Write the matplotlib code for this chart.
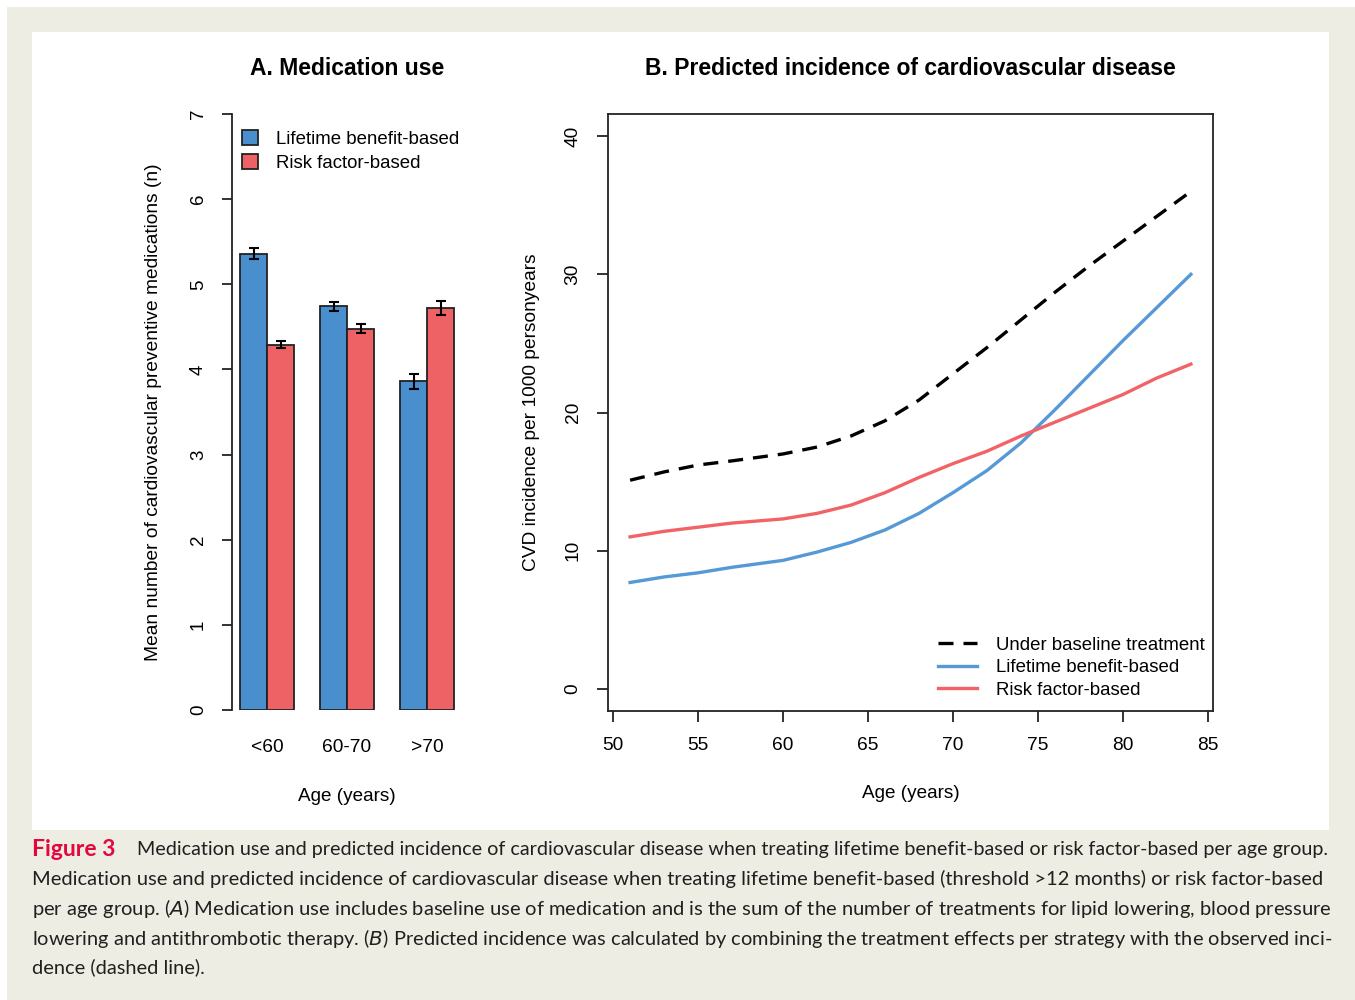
import matplotlib
matplotlib.use("Agg")
import matplotlib.pyplot as plt
from matplotlib import font_manager
from matplotlib.patches import Rectangle
import numpy as np

# panel A data
age_groups = ['<60', '60-70', '>70']
meds_lifetime = [5.36, 4.74, 3.86]
meds_lifetime_err = [0.064, 0.055, 0.09]
meds_risk = [4.29, 4.48, 4.72]
meds_risk_err = [0.043, 0.055, 0.08]

# panel B data
age = [51, 53, 55, 57, 60, 62, 64, 66, 68, 70, 72, 74, 76, 78, 80, 82, 84]
cvd_baseline = [15.1, 15.7, 16.2, 16.5, 17.0, 17.5, 18.3, 19.4, 20.9, 22.8,
                24.7, 26.7, 28.7, 30.6, 32.4, 34.2, 36.0]
cvd_lifetime = [7.7, 8.1, 8.4, 8.8, 9.3, 9.9, 10.6, 11.5, 12.7, 14.2,
                15.8, 17.8, 20.2, 22.7, 25.2, 27.6, 30.0]
cvd_risk = [11.0, 11.4, 11.7, 12.0, 12.3, 12.7, 13.3, 14.2, 15.3, 16.3,
            17.2, 18.3, 19.3, 20.3, 21.3, 22.5, 23.5]

caption_lines = [
    "Medication use and predicted incidence of cardiovascular disease when treating lifetime benefit-based or risk factor-based per age group.",
    "Medication use and predicted incidence of cardiovascular disease when treating lifetime benefit-based (threshold >12 months) or risk factor-based",
    "per age group. ($\\it{A}$) Medication use includes baseline use of medication and is the sum of the number of treatments for lipid lowering, blood pressure",
    "lowering and antithrombotic therapy. ($\\it{B}$) Predicted incidence was calculated by combining the treatment effects per strategy with the observed inci-",
    "dence (dashed line).",
]

BLUE = '#4a8fcd'
RED = '#ee6265'
BLUE_L = '#5599d6'
RED_L = '#f26368'
BEIGE = '#eeede3'

plt.rcParams['font.family'] = ['Liberation Sans', 'DejaVu Sans']
names = {f.name for f in font_manager.fontManager.ttflist}
cap_font = 'Lato' if 'Lato' in names else 'DejaVu Sans'

W, H = 1355, 1000
fig = plt.figure(figsize=(W / 100, H / 100), dpi=100)
fig.patch.set_facecolor('white')
fig.add_artist(Rectangle((7 / W, 0), 1 - 7 / W, 1 - 7 / H, transform=fig.transFigure,
                         facecolor=BEIGE, edgecolor='none', zorder=-10))
fig.add_artist(Rectangle((32 / W, 1 - 830 / H), (1329 - 32) / W, (830 - 32) / H,
                         transform=fig.transFigure, facecolor='white', edgecolor='none', zorder=-9))

# ---- panel A
ax1 = fig.add_axes([232 / W, 1 - 710 / H, 230 / W, 596 / H])
ax1.patch.set_alpha(0)
x = np.arange(len(age_groups))
bw = 0.3375
ekw = dict(elinewidth=1.5, capthick=1.5, ecolor='black')
ax1.bar(x - bw / 2, meds_lifetime, bw, color=BLUE, edgecolor='#222222', linewidth=1.3,
        yerr=meds_lifetime_err, capsize=3.5, error_kw=ekw, label='Lifetime benefit-based')
ax1.bar(x + bw / 2, meds_risk, bw, color=RED, edgecolor='#222222', linewidth=1.3,
        yerr=meds_risk_err, capsize=3.5, error_kw=ekw, label='Risk factor-based')
ax1.set_xlim(-0.4375, 2.4375)
ax1.set_ylim(0, 7)
ax1.set_yticks(range(8))
for s in ['top', 'right', 'bottom']:
    ax1.spines[s].set_visible(False)
ax1.spines['left'].set_linewidth(1.3)
ax1.spines['left'].set_color('#222222')
ax1.tick_params(axis='y', length=7, width=1.3, pad=11, labelsize=13.5, labelrotation=90,
                color='#222222')
for t in ax1.get_yticklabels():
    t.set_va('center')
ax1.set_xticks(x)
ax1.set_xticklabels(age_groups)
ax1.tick_params(axis='x', length=0, pad=21, labelsize=13.8)
ax1.set_xlabel('Age (years)', fontsize=13.6, labelpad=23)
ax1.set_ylabel('Mean number of cardiovascular preventive medications (n)', fontsize=13.8,
               labelpad=20)
ax1.legend(loc='upper left', bbox_to_anchor=(0.01, 0.985), frameon=False,
           fontsize=13.4, handlelength=0.85, handleheight=0.85, handletextpad=1.0,
           labelspacing=0.3, borderaxespad=0)
fig.text(347 / W, 1 - 68 / H, 'A. Medication use', fontsize=16.5, fontweight='bold',
         ha='center', va='center')

# ---- panel B
ax2 = fig.add_axes([608 / W, 1 - 711 / H, 605 / W, 597 / H])
ax2.patch.set_alpha(0)
ax2.plot(age, cvd_baseline, color='black', lw=2.4, dashes=(4.5, 3),
         label='Under baseline treatment')
ax2.plot(age, cvd_lifetime, color=BLUE_L, lw=2.4, label='Lifetime benefit-based')
ax2.plot(age, cvd_risk, color=RED_L, lw=2.4, label='Risk factor-based')
ax2.set_xlim(49.7, 85.3)
ax2.set_ylim(-1.6, 41.6)
ax2.set_xticks(range(50, 90, 5))
ax2.set_yticks(range(0, 50, 10))
for s in ax2.spines.values():
    s.set_linewidth(1.3)
    s.set_color('#222222')
ax2.tick_params(axis='x', length=8, width=1.3, pad=11, labelsize=13.8, color='#222222')
ax2.tick_params(axis='y', length=8, width=1.3, pad=11, labelsize=13.8, labelrotation=90,
                color='#222222')
for t in ax2.get_yticklabels():
    t.set_va('center')
ax2.set_xlabel('Age (years)', fontsize=13.6, labelpad=22)
ax2.set_ylabel('CVD incidence per 1000 personyears', fontsize=13.8, labelpad=18)
ax2.legend(loc='lower right', bbox_to_anchor=(0.998, 0.008), frameon=False, fontsize=13.4,
           handlelength=2.1, handletextpad=1.0, labelspacing=0.3, borderaxespad=0)
fig.text(910 / W, 1 - 68 / H, 'B. Predicted incidence of cardiovascular disease',
         fontsize=16.5, fontweight='bold', ha='center', va='center')

# ---- caption
fig.text(32 / W, 1 - 849 / H, 'Figure 3', fontsize=16.5, fontweight='bold', color='#e2073f',
         family=cap_font, ha='left', va='center')
renderer = fig.canvas.get_renderer()
ys = [849, 879, 908, 938, 967]
sizes = []
for i, line in enumerate(caption_lines[:4]):
    x0 = 137 if i == 0 else 32
    probe = fig.text(0, 0, line, fontsize=14, family=cap_font)
    w = probe.get_window_extent(renderer).width
    probe.remove()
    sizes.append(14 * (1328 - x0) / w * 1.004)
sizes.append(sizes[-1])
for i, (line, yy) in enumerate(zip(caption_lines, ys)):
    x0 = 137 if i == 0 else 32
    fig.text(x0 / W, 1 - yy / H, line, fontsize=sizes[i], family=cap_font, color='#231f20',
             ha='left', va='center')

fig.savefig('out.png', dpi=100, facecolor=fig.get_facecolor())
